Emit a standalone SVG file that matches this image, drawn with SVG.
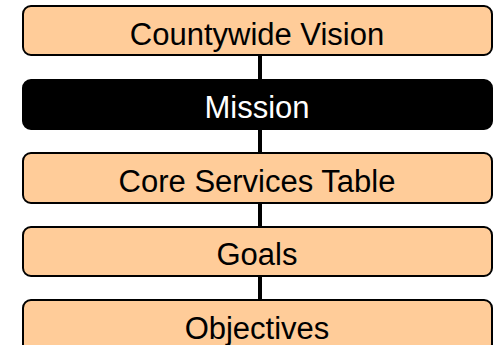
<svg xmlns="http://www.w3.org/2000/svg" width="493" height="345" viewBox="0 0 493 345">
  <style>
    .box { fill: #FFCC99; stroke: #000; stroke-width: 2; }
    .dark { fill: #000; stroke: #000; stroke-width: 2; }
    .lbl { font-family: "Liberation Sans", Arial, sans-serif; font-size: 31px; text-anchor: middle; fill: #000; }
    .lbl.inv { fill: #fff; }
    .wire { stroke: #000; stroke-width: 4; fill: none; }
  </style>
  <rect width="493" height="345" fill="#fff"/>
  <!-- vertical connectors between the stacked levels -->
  <g id="connectors">
    <line class="wire" x1="260" y1="55" x2="260" y2="80"/>
    <line class="wire" x1="260" y1="129" x2="260" y2="153"/>
    <line class="wire" x1="260" y1="203" x2="260" y2="227"/>
    <line class="wire" x1="260" y1="276" x2="260" y2="300"/>
  </g>
  <g id="vision">
    <rect class="box" x="23" y="6" width="469" height="49" rx="8"/>
    <text class="lbl" x="257" y="45">Countywide Vision</text>
  </g>
  <g id="mission">
    <rect class="dark" x="23" y="80" width="469" height="49" rx="8"/>
    <text class="lbl inv" x="257" y="118">Mission</text>
  </g>
  <g id="core-services">
    <rect class="box" x="23" y="153" width="469" height="50" rx="8"/>
    <text class="lbl" x="257" y="192">Core Services Table</text>
  </g>
  <g id="goals">
    <rect class="box" x="23" y="227" width="469" height="49" rx="8"/>
    <text class="lbl" x="257" y="265">Goals</text>
  </g>
  <g id="objectives">
    <rect class="box" x="23" y="300" width="469" height="52" rx="8"/>
    <text class="lbl" x="257" y="339">Objectives</text>
  </g>
</svg>
